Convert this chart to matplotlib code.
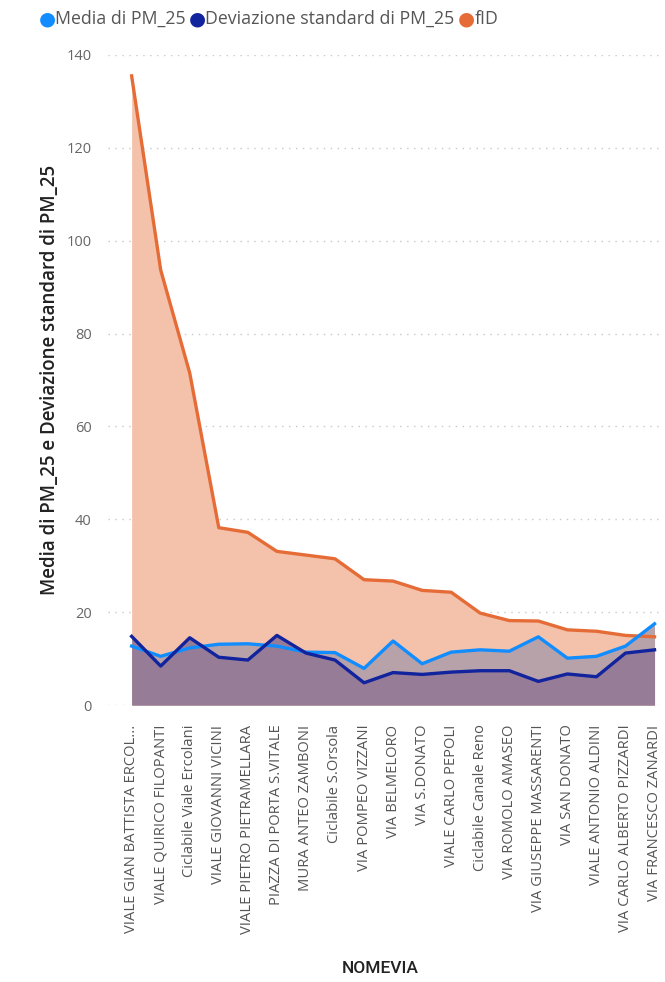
import matplotlib.pyplot as plt
import numpy as np

plt.rcParams['font.family'] = ['Open Sans', 'DejaVu Sans']

# data
strade = ["VIALE GIAN BATTISTA ERCOL...", "VIALE QUIRICO FILOPANTI", "Ciclabile Viale Ercolani",
          "VIALE GIOVANNI VICINI", "VIALE PIETRO PIETRAMELLARA", "PIAZZA DI PORTA S.VITALE",
          "MURA ANTEO ZAMBONI", "Ciclabile S.Orsola", "VIA POMPEO VIZZANI", "VIA BELMELORO",
          "VIA S.DONATO", "VIALE CARLO PEPOLI", "Ciclabile Canale Reno", "VIA ROMOLO AMASEO",
          "VIA GIUSEPPE MASSARENTI", "VIA SAN DONATO", "VIALE ANTONIO ALDINI",
          "VIA CARLO ALBERTO PIZZARDI", "VIA FRANCESCO ZANARDI"]
media = [12.7, 10.5, 12.3, 13.1, 13.2, 12.7, 11.4, 11.3, 7.9, 13.8,
         8.9, 11.4, 11.9, 11.6, 14.7, 10.1, 10.5, 12.7, 17.5]
devstd = [14.8, 8.4, 14.5, 10.3, 9.7, 15.0, 11.2, 9.7, 4.8, 7.0,
          6.6, 7.1, 7.4, 7.4, 5.1, 6.7, 6.1, 11.2, 11.9]
fid = [135.5, 93.7, 71.5, 38.2, 37.2, 33.1, 32.3, 31.5, 27.0, 26.7,
       24.7, 24.3, 19.8, 18.2, 18.1, 16.2, 15.9, 15.0, 14.7]
yticks = [0, 20, 40, 60, 80, 100, 120, 140]

x = np.arange(len(strade))

fig = plt.figure(figsize=(6.65, 9.82), dpi=100)
ax = fig.add_axes([0.163, 0.282, 0.83, 0.662])

ax.fill_between(x, 0, fid, color="#F4C2AA", lw=0, zorder=1)
ax.fill_between(x, 0, media, color="#B8A2AA", lw=0, zorder=2)
ax.fill_between(x, 0, devstd, color="#977C97", lw=0, zorder=3)

ax.plot(x, fid, color="#E66C37", lw=2.4, zorder=4, solid_joinstyle="round")
ax.plot(x, media, color="#118DFF", lw=2.4, zorder=5, solid_joinstyle="round")
ax.plot(x, devstd, color="#12239E", lw=2.4, zorder=6, solid_joinstyle="round")

ax.set_xlim(-0.8, 18.2)
ax.set_ylim(0, 140)
ax.set_yticks(yticks)
ax.set_xticks(x)
ax.set_xticklabels(strade, rotation=90, fontsize=10.6, color="#555555")
ax.tick_params(axis="y", labelsize=10.5, labelcolor="#666666", length=0, pad=12)
ax.tick_params(axis="x", length=0, pad=14)
for v in yticks:
    ax.axhline(v, color="#C8C8C8", lw=1, ls=(0, (1, 4)), zorder=0)
for s in ax.spines.values():
    s.set_visible(False)

ax.set_ylabel("Media di PM_25 e Deviazione standard di PM_25", fontsize=13.5,
              color="#222222", labelpad=5, fontweight="semibold")
fig.text(0.572, 0.009, "NOMEVIA", fontsize=12.5, color="#222222", ha="center",
         family=["Roboto", "DejaVu Sans"], fontweight="medium")

# legend
lx = 0.058
for nome, col in [("Media di PM_25", "#118DFF"),
                  ("Deviazione standard di PM_25", "#12239E"),
                  ("fID", "#E66C37")]:
    fig.text(lx, 0.981, "\u25CF", color=col, fontsize=14, va="center", ha="left",
             family="DejaVu Sans")
    t = fig.text(lx + 0.024, 0.981, nome, color="#555555", fontsize=12.8, va="center", ha="left")
    fig.canvas.draw()
    bb = t.get_window_extent()
    lx = bb.x1 / fig.bbox.width + 0.006

fig.savefig("out.png", dpi=100)
